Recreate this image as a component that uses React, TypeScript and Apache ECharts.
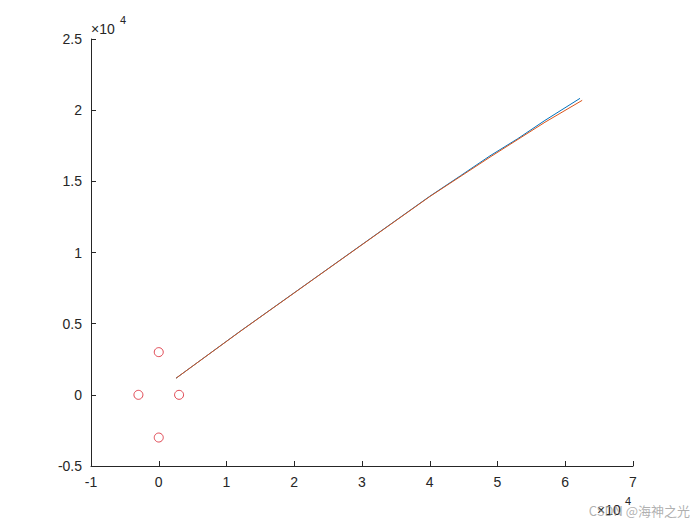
import React, { useEffect, useRef } from "react";
import * as echarts from "echarts";

const circlePoints: [number, number][] = [
  [0, 3000],
  [-3000, 0],
  [3000, 0],
  [0, -3000],
];

const blueLine: [number, number][] = [
  [2546, 1166],
  [12000, 4460],
  [22800, 8120],
  [40000, 13950],
  [44500, 15380],
  [48890, 16790],
  [53000, 18000],
  [57000, 19280],
  [62180, 20830],
];

const redLine: [number, number][] = [
  [2546, 1166],
  [12000, 4450],
  [22800, 8110],
  [40000, 13930],
  [48890, 16700],
  [57000, 19150],
  [62500, 20690],
];

const xTicks = { min: -10000, max: 70000, interval: 10000 };
const yTicks = { min: -5000, max: 25000, interval: 5000 };

const FONT = "'Liberation Sans', Arial, Helvetica, sans-serif";
const AXIS_COLOR = "#262626";

export default function App() {
  const ref = useRef<HTMLDivElement>(null);
  useEffect(() => {
    if (!ref.current) return;
    const chart = echarts.init(ref.current, undefined, { renderer: "svg" });
    const fmt = (v: number) => String(Math.round((v / 10000) * 10) / 10);
    const axisCommon = {
      axisLine: { show: true, onZero: false, lineStyle: { color: AXIS_COLOR, width: 1 } },
      axisTick: { show: true, inside: true, length: 5, lineStyle: { color: AXIS_COLOR } },
      axisLabel: { color: AXIS_COLOR, fontSize: 14, fontFamily: FONT, formatter: fmt },
      splitLine: { show: false },
    };
    chart.setOption({
      animation: false,
      backgroundColor: "#ffffff",
      grid: { left: 91, right: 67, top: 39, bottom: 59, containLabel: false },
      xAxis: {
        type: "value",
        ...xTicks,
        ...axisCommon,
        axisLabel: { ...axisCommon.axisLabel, margin: 9 },
      },
      yAxis: {
        type: "value",
        ...yTicks,
        ...axisCommon,
        axisLabel: { ...axisCommon.axisLabel, margin: 9 },
      },
      series: [
        {
          type: "line",
          data: blueLine,
          showSymbol: false,
          symbol: "none",
          lineStyle: { color: "#0072BD", width: 1 },
          z: 2,
        },
        {
          type: "line",
          data: redLine,
          showSymbol: false,
          symbol: "none",
          lineStyle: { color: "#D95319", width: 1 },
          z: 3,
        },
        {
          type: "scatter",
          data: circlePoints,
          symbol: "circle",
          symbolSize: 9,
          itemStyle: { color: "rgba(0,0,0,0)", borderColor: "#d81e2c", borderWidth: 1 },
          z: 4,
        },
      ],
      graphic: [
        {
          type: "text",
          left: 91,
          top: 22,
          style: { text: "×10", fill: AXIS_COLOR, font: `14px ${FONT}` },
        },
        {
          type: "text",
          left: 120,
          top: 14,
          style: { text: "4", fill: AXIS_COLOR, font: `11px ${FONT}` },
        },
        {
          type: "text",
          left: 597,
          top: 503,
          style: { text: "×10", fill: AXIS_COLOR, font: `14px ${FONT}` },
        },
        {
          type: "text",
          left: 625,
          top: 495,
          style: { text: "4", fill: AXIS_COLOR, font: `11px ${FONT}` },
        },
        {
          type: "text",
          right: 10,
          top: 504,
          style: {
            text: "CSDN @海神之光",
            fill: "rgba(150,150,150,0.75)",
            font: `13px 'Noto Sans CJK SC', ${FONT}`,
          },
          z: 10,
        },
      ],
    });
    return () => chart.dispose();
  }, []);
  return (
    <div
      ref={ref}
      style={{ width: 700, height: 525, position: "absolute", left: 0, top: 0, background: "#fff" }}
    />
  );
}
